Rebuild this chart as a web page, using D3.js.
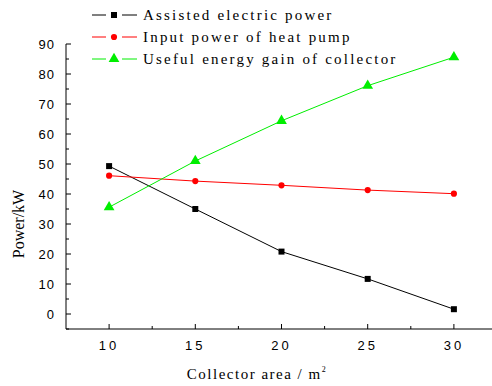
<!DOCTYPE html>
<html>
<head>
<meta charset="utf-8">
<script src="https://cdn.jsdelivr.net/npm/d3@7"></script>
<style>
  body { margin: 0; background: #fff; }
  svg text { fill: #000; }
  .serif { font-family: "Liberation Serif", "Times New Roman", serif; }
  .sans { font-family: "Liberation Sans", Arial, sans-serif; }
</style>
</head>
<body>
<script>
// valeurs
const area = [10, 15, 20, 25, 30];
const assisted = [49.3, 35.0, 20.8, 11.7, 1.6];
const heatPump = [46.1, 44.3, 42.9, 41.3, 40.1];
const usefulGain = [35.6, 51.0, 64.4, 76.1, 85.6];
const xTicks = [10, 15, 20, 25, 30];
const yTicks = [0, 10, 20, 30, 40, 50, 60, 70, 80, 90];

const series = [
  { name: "Assisted electric power", values: assisted, color: "#000", shape: d3.symbolSquare, size: 36 },
  { name: "Input power of heat pump", values: heatPump, color: "#ff0000", shape: d3.symbolCircle, size: 30 },
  { name: "Useful energy gain of collector", values: usefulGain, color: "#00ee00", shape: d3.symbolTriangle, size: 50 }
];

const width = 492, height = 386;
const svg = d3.select("body").append("svg")
    .attr("width", width)
    .attr("height", height);

const x = d3.scaleLinear().domain([7.5, 32.5]).range([66, 497]);
const y = d3.scaleLinear().domain([-5, 90]).range([329, 44]);

// axes
const xAxis = svg.append("g").attr("transform", "translate(0,329)");
xAxis.append("line").attr("x1", 66).attr("x2", width).attr("stroke", "#000");
xAxis.selectAll(".maj").data(xTicks).enter().append("line")
    .attr("x1", d => x(d)).attr("x2", d => x(d)).attr("y1", 0).attr("y2", -5)
    .attr("stroke", "#000");
xAxis.selectAll(".min").data(d3.range(12.5, 30, 5)).enter().append("line")
    .attr("x1", d => x(d)).attr("x2", d => x(d)).attr("y1", 0).attr("y2", -3)
    .attr("stroke", "#000");
xAxis.selectAll("text").data(xTicks).enter().append("text")
    .attr("class", "sans")
    .attr("x", d => x(d)).attr("y", 21)
    .attr("text-anchor", "middle")
    .style("font-size", "13px")
    .style("letter-spacing", "3px")
    .text(d => d);

const yAxis = svg.append("g").attr("transform", "translate(66,0)");
yAxis.append("line").attr("y1", 44).attr("y2", 329).attr("stroke", "#000");
yAxis.selectAll(".maj").data(yTicks).enter().append("line")
    .attr("y1", d => y(d)).attr("y2", d => y(d)).attr("x1", 0).attr("x2", 5)
    .attr("stroke", "#000");
yAxis.selectAll(".min").data(d3.range(-5, 90, 10)).enter().append("line")
    .attr("y1", d => y(d)).attr("y2", d => y(d)).attr("x1", 0).attr("x2", 3)
    .attr("stroke", "#000");
yAxis.selectAll("text").data(yTicks).enter().append("text")
    .attr("class", "sans")
    .attr("x", -11).attr("y", d => y(d) + 5)
    .attr("text-anchor", "end")
    .style("font-size", "13px")
    .style("letter-spacing", "1px")
    .text(d => d);

// titres des axes
svg.append("text")
    .attr("class", "serif")
    .attr("transform", "translate(24,224) rotate(-90)")
    .attr("text-anchor", "middle")
    .style("font-size", "16px")
    .text("Power/kW");

const xt = svg.append("text")
    .attr("class", "serif")
    .attr("x", 257).attr("y", 379)
    .attr("text-anchor", "middle")
    .style("font-size", "15px")
    .style("letter-spacing", "1.5px");
xt.append("tspan").attr("class", "serif").text("Collector area / m");
xt.append("tspan").attr("class", "serif").attr("dy", -7).style("font-size", "8px").text("2");

// courbes
const line = d3.line().x((d, i) => x(area[i])).y(d => y(d));
series.forEach(s => {
  svg.append("path")
      .datum(s.values)
      .attr("d", line)
      .attr("fill", "none")
      .attr("stroke", s.color)
      .attr("stroke-width", 1);
  svg.selectAll(null).data(s.values).enter().append("path")
      .attr("d", d3.symbol().type(s.shape).size(s.size))
      .attr("transform", (d, i) => `translate(${x(area[i])},${y(d)})`)
      .attr("fill", s.color);
});

// légende
const legend = svg.append("g");
series.forEach((s, i) => {
  const ly = 15 + i * 22;
  legend.append("line").attr("x1", 92).attr("x2", 106).attr("y1", ly).attr("y2", ly).attr("stroke", s.color);
  legend.append("line").attr("x1", 122).attr("x2", 137).attr("y1", ly).attr("y2", ly).attr("stroke", s.color);
  legend.append("path")
      .attr("d", d3.symbol().type(s.shape).size(s.size))
      .attr("transform", `translate(114,${ly})`)
      .attr("fill", s.color);
  legend.append("text")
      .attr("class", "serif")
      .attr("x", 143).attr("y", ly + 5)
      .style("font-size", "15px")
      .style("letter-spacing", "2.2px")
      .text(s.name);
});
</script>
</body>
</html>
